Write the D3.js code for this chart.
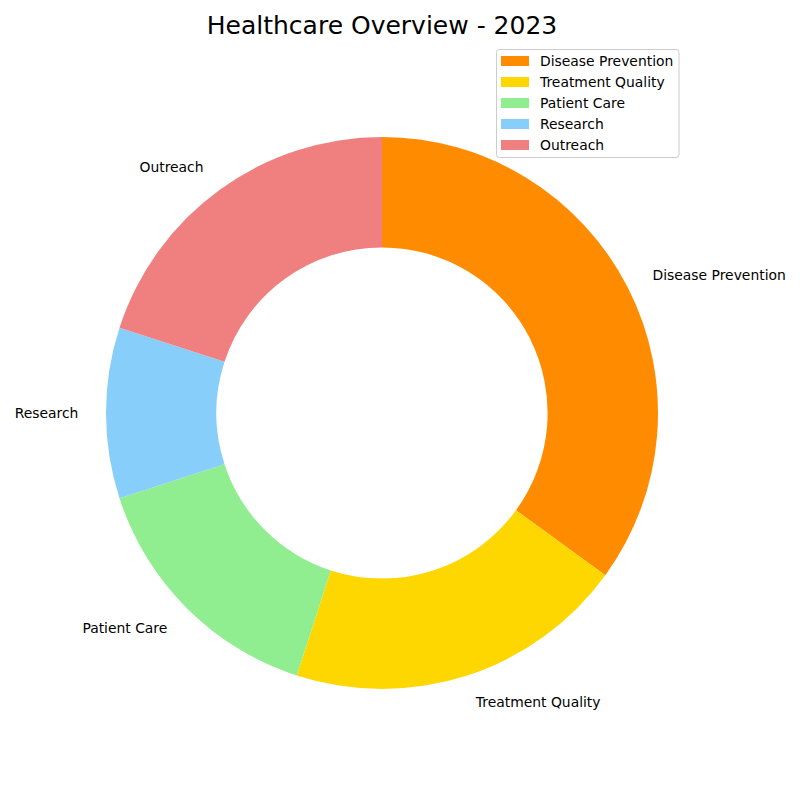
<!DOCTYPE html>
<html><head><meta charset="utf-8">
<script src="https://cdn.jsdelivr.net/npm/d3@7"></script>
<style>body{margin:0;background:#fff}svg{display:block;font-family:"DejaVu Sans",sans-serif}</style>
</head><body>
<svg id="chart" width="800" height="800"></svg>
<script>
const categories = ["Disease Prevention","Treatment Quality","Patient Care","Research","Outreach"];
const values = [35,20,15,10,20];
const colors = ["#FF8C00","#FFD700","#90EE90","#87CEFA","#F08080"];
const title = "Healthcare Overview - 2023";

const svg = d3.select("#chart");
const cx = 382, cy = 413, R = 276, r = R*0.6;
const data = categories.map((c,i)=>({cat:c,val:values[i],color:colors[i]}));
const pie = d3.pie().value(d=>d.val).sort(null);
const arcs = pie(data);
const arc = d3.arc().innerRadius(r).outerRadius(R);
const g = svg.append("g").attr("transform",`translate(${cx},${cy})`);
g.selectAll("path").data(arcs).join("path").attr("d",arc).attr("fill",d=>d.data.color);

const lr = R*1.1;
g.selectAll("text.lbl").data(arcs).join("text").attr("class","lbl")
  .each(function(d){
    const a = (d.startAngle+d.endAngle)/2;
    const x = lr*Math.sin(a), y = -lr*Math.cos(a);
    d3.select(this).attr("x",x).attr("y",y)
      .attr("text-anchor", x>=0?"start":"end")
      .attr("dominant-baseline","central");
  })
  .attr("font-size","13.9px").attr("fill","#000").text(d=>d.data.cat);

svg.append("text").attr("x",382).attr("y",34).attr("text-anchor","middle")
  .attr("font-size","25px").attr("fill","#000").text(title);

const lg = svg.append("g");
lg.append("rect").attr("x",496.5).attr("y",49.5).attr("width",182.5).attr("height",108)
  .attr("rx",3).attr("fill","#fff").attr("fill-opacity",0.8).attr("stroke","#ccc");
data.forEach((d,i)=>{
  const y = 61 + i*21;
  lg.append("rect").attr("x",501).attr("y",y-5).attr("width",28).attr("height",10).attr("fill",d.color);
  lg.append("text").attr("x",540).attr("y",y).attr("dominant-baseline","central")
    .attr("font-size","13.9px").attr("fill","#000").text(d.cat);
});
</script>
</body></html>
